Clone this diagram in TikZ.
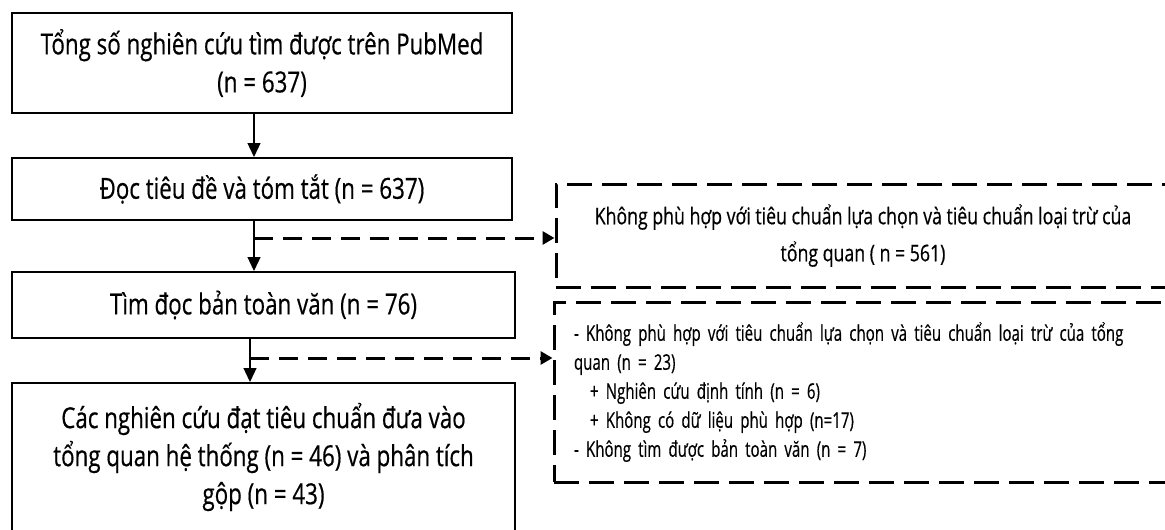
\documentclass[tikz,border=0pt]{standalone}
\usepackage{fontspec}
\setmainfont{Open Sans}[FakeStretch=0.77,FakeBold=0.5]
\newfontfamily\narrowfont{Open Sans}[FakeStretch=0.70,FakeBold=0.5]
\usetikzlibrary{arrows.meta}
\begin{document}
\begin{tikzpicture}[x=1pt,y=-1pt,
  box/.style={draw, line width=2pt, rectangle, align=center, inner sep=0pt,
    font=\fontsize{29}{38}\selectfont},
  dbox/.style={draw, line width=3pt, dash pattern=on 25pt off 10pt, rectangle, inner sep=0pt},
  arr/.style={line width=1.3pt, -{Triangle[width=13pt,length=14pt]}},
  darr/.style={line width=3pt, dash pattern=on 19pt off 10pt, -{Triangle[width=13pt,length=12pt]}}]
\clip (0,0) rectangle (1165,530);
\node[box, minimum width=500pt, minimum height=100pt] (b1) at (262,63)
  {Tổng số nghiên cứu tìm được trên PubMed\\(n = 637)};
\node[box, minimum width=500pt, minimum height=62pt] (b2) at (262,189)
  {Đọc tiêu đề và tóm tắt (n = 637)};
\node[box, minimum width=503pt, minimum height=66pt] (b3) at (263.5,305)
  {Tìm đọc bản toàn văn (n = 76)};
\node[box, minimum width=503pt, minimum height=148pt] (b4) at (263.5,457)
  {Các nghiên cứu đạt tiêu chuẩn đưa vào\\tổng quan hệ thống (n = 46) và phân tích\\gộp (n = 43)};
\node[dbox, minimum width=614pt, minimum height=103pt, align=center,
  font=\fontsize{23}{37}\selectfont] (d1) at (863,235.5)
  {Không phù hợp với tiêu chuẩn lựa chọn và tiêu chuẩn loại trừ của\\tổng quan ( n = 561)};
\node[dbox, minimum width=616pt, minimum height=180pt, align=left, inner xsep=20pt,
  text width=576pt, font=\narrowfont\fontsize{21.5}{29}\selectfont] (d2) at (862,392)
  {- Không phù hợp với tiêu chuẩn lựa chọn và tiêu chuẩn loại trừ của tổng\\
   quan (n = 23)\\
   \hspace*{16pt}+ Nghiên cứu định tính (n = 6)\\
   \hspace*{16pt}+ Không có dữ liệu phù hợp (n=17)\\
   - Không tìm được bản toàn văn (n = 7)};
\coordinate (xa) at (254,0);
\coordinate (xb) at (250,0);
\coordinate (j1) at (254,238);
\coordinate (j2) at (250,358);
\draw[arr] (b1.south -| xa) -- (b2.north -| xa);
\draw[arr] (b2.south -| xa) -- (b3.north -| xa);
\draw[arr] (b3.south -| xb) -- (b4.north -| xb);
\draw[darr] (j1) -- (j1 -| d1.west);
\draw[darr] (j2) -- (j2 -| d2.west);
\end{tikzpicture}
\end{document}
